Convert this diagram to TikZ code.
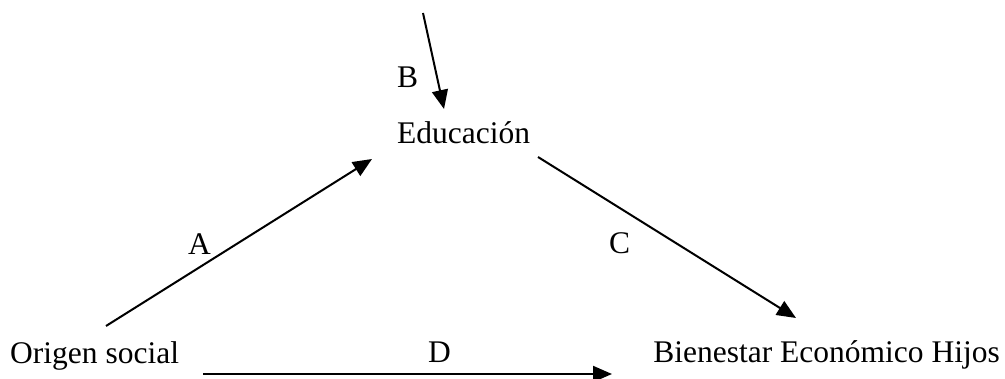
\documentclass[tikz,border=0pt]{standalone}
\usepackage{fontspec}
\setmainfont{Liberation Serif}
\usetikzlibrary{arrows.meta}
\begin{document}
\begin{tikzpicture}[x=1pt,y=-1pt,
  lbl/.style={inner sep=0pt,font=\fontsize{31.5}{38}\selectfont},
  arr/.style={line width=2pt,-{Triangle[length=19pt,width=16pt]}}]
\useasboundingbox (0,0) rectangle (1005,379);
% texts
\node[lbl,anchor=base west] (edu) at (397,144) {Educación};
\node[lbl,anchor=base west] (orig) at (10,364) {Origen social};
\node[lbl,anchor=base east] (bien) at (1000,363) {Bienestar Económico Hijos};
\node[lbl,anchor=base west] (lB) at (397,88) {B};
\node[lbl,anchor=base west] (lA) at (188,255) {A};
\node[lbl,anchor=base west] (lC) at (609,254) {C};
\node[lbl,anchor=base west] (lD) at (428,363) {D};
% arrow ends
\coordinate (bS) at (423,13);
\coordinate (bE) at (444,109);
\coordinate (aS) at (106,326);
\coordinate (aE) at (372,159);
\coordinate (cS) at (538,157);
\coordinate (cE) at (796,318);
\coordinate (dS) at (203,374);
\coordinate (dE) at (612,374);
\draw[arr] (bS) -- (bE);
\draw[arr] (aS) -- (aE);
\draw[arr] (cS) -- (cE);
\draw[arr] (dS) -- (dE);
\end{tikzpicture}
\end{document}
